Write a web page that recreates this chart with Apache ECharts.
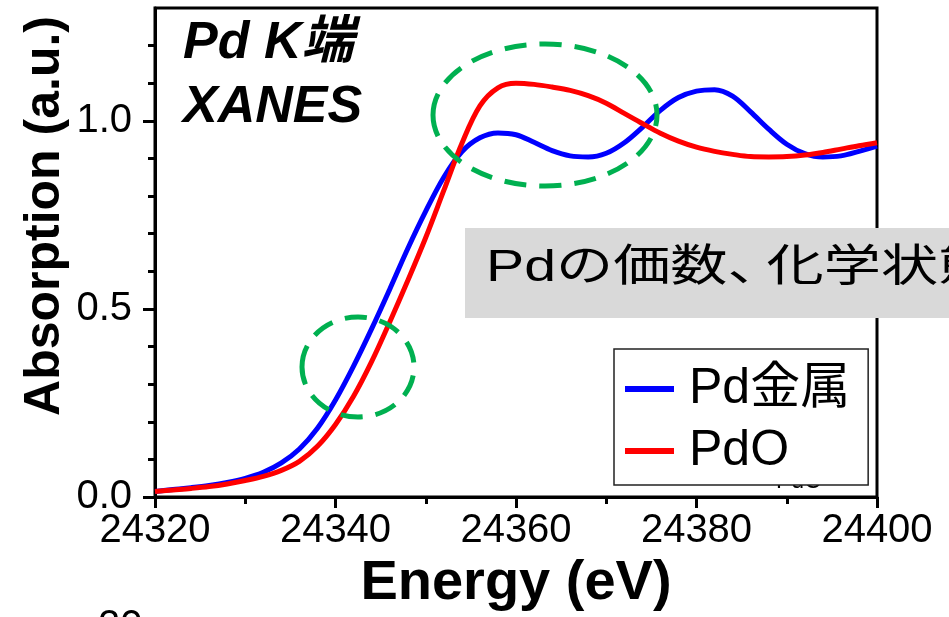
<!DOCTYPE html>
<html>
<head>
<meta charset="utf-8">
<script src="https://cdn.jsdelivr.net/npm/echarts@6/dist/echarts.min.js"></script>
<style>html,body{margin:0;padding:0;background:#fff;}#c{width:949px;height:617px;}</style>
</head>
<body>
<div id="c"></div>
<script>
const energies = [24320,24322,24324,24326,24328,24330,24332,24334,24336,24338,24340,24342,24344,24346,24348,24350,24352,24354,24356,24358,24360,24362,24364,24366,24368,24370,24372,24374,24376,24378,24380,24382,24384,24386,24388,24390,24392,24394,24396,24398,24400];
const pdMetal = [0.015,0.020,0.025,0.031,0.039,0.050,0.066,0.091,0.128,0.183,0.258,0.348,0.447,0.552,0.660,0.760,0.850,0.918,0.955,0.968,0.963,0.943,0.921,0.907,0.904,0.914,0.942,0.983,1.028,1.062,1.079,1.083,1.066,1.024,0.978,0.938,0.913,0.904,0.907,0.919,0.933];
const pdO = [0.015,0.019,0.023,0.028,0.035,0.044,0.055,0.071,0.095,0.135,0.193,0.268,0.360,0.465,0.575,0.690,0.815,0.940,1.040,1.088,1.100,1.097,1.090,1.081,1.067,1.047,1.020,0.993,0.967,0.946,0.930,0.919,0.911,0.905,0.904,0.905,0.909,0.916,0.925,0.934,0.942];
const seriesNames = ['Pd金属', 'PdO'];
const yMajorTicks = [0, 0.5, 1.0];
const yMinorTicks = [0.1,0.2,0.3,0.4,0.6,0.7,0.8,0.9,1.1,1.2];
const titleLines = ['Pd K端', 'XANES'];
const boxText = ['Pdの価数', '、', '化学状態'];

const FONT = "'Liberation Sans', Arial, 'Noto Sans CJK JP', sans-serif";
const chart = echarts.init(document.getElementById('c'), null, {renderer: 'canvas'});

const option = {
  animation: false,
  backgroundColor: '#fff',
  grid: {left: 155, right: 72, top: 8, bottom: 115, show: true, borderColor: '#000', borderWidth: 3, backgroundColor: 'transparent'},
  legend: {
    orient: 'vertical', left: 614, top: 349,
    padding: [15, 18, 9, 11],
    backgroundColor: '#fff', borderColor: '#222', borderWidth: 1.5,
    itemWidth: 49, itemHeight: 6, itemGap: 12, icon: 'rect',
    textStyle: {fontFamily: FONT, fontSize: 50, color: '#000', lineHeight: 49, padding: [0, 0, 0, 10]},
    data: seriesNames, z: 20
  },
  xAxis: {
    type: 'value', min: 24320, max: 24400, interval: 20,
    name: 'Energy (eV)', nameLocation: 'middle', nameGap: 58,
    nameTextStyle: {fontFamily: FONT, fontSize: 56, fontWeight: 'bold', color: '#000'},
    axisLine: {lineStyle: {color: '#000', width: 3}},
    axisTick: {length: 11, lineStyle: {color: '#000', width: 3}},
    minorTick: {show: true, splitNumber: 2, length: 7, lineStyle: {color: '#000', width: 3}},
    axisLabel: {fontFamily: FONT, fontSize: 40, color: '#000', margin: 14, formatter: v => String(v)},
    splitLine: {show: false}, minorSplitLine: {show: false}
  },
  yAxis: [{
    type: 'value', min: 0, max: 1.3, position: 'left',
    axisLine: {show: true, lineStyle: {color: '#000', width: 3}},
    axisTick: {show: true, length: 12, customValues: yMajorTicks, lineStyle: {color: '#000', width: 3}},
    axisLabel: {fontFamily: FONT, fontSize: 40, color: '#000', margin: 23, customValues: yMajorTicks, formatter: v => v.toFixed(1)},
    splitLine: {show: false}
  }, {
    type: 'value', min: 0, max: 1.3, position: 'left',
    axisLine: {show: false},
    axisTick: {show: true, length: 7, customValues: yMinorTicks, lineStyle: {color: '#000', width: 3}},
    axisLabel: {show: false},
    splitLine: {show: false}
  }],
  series: [{
    name: seriesNames[0], type: 'line', smooth: 0.35, showSymbol: false, symbol: 'none',
    lineStyle: {color: '#0000ff', width: 5}, itemStyle: {color: '#0000ff'},
    data: energies.map((e, i) => [e, pdMetal[i]]), z: 3
  }, {
    name: seriesNames[1], type: 'line', smooth: 0.35, showSymbol: false, symbol: 'none',
    lineStyle: {color: '#ff0000', width: 5}, itemStyle: {color: '#ff0000'},
    data: energies.map((e, i) => [e, pdO[i]]), z: 4
  }],
  graphic: [
    {type: 'text', x: 45, y: 216, rotation: Math.PI / 2, z: 10,
     style: {text: 'Absorption (a.u.)', font: "bold 50px " + FONT, fill: '#000', align: 'center', verticalAlign: 'middle'}},
    {type: 'text', x: 183, y: 44, z: 10,
     style: {text: titleLines[0], font: "italic bold 52px " + FONT, fill: '#000', align: 'left', verticalAlign: 'middle'}},
    {type: 'text', x: 183, y: 108, z: 10,
     style: {text: titleLines[1], font: "italic bold 52px " + FONT, fill: '#000', align: 'left', verticalAlign: 'middle'}},
    {type: 'ellipse', z: 12, shape: {cx: 545, cy: 115, rx: 112, ry: 71},
     style: {fill: null, stroke: '#00b050', lineWidth: 5, lineDash: [22, 13]}},
    {type: 'ellipse', z: 12, shape: {cx: 358, cy: 367, rx: 56, ry: 50},
     style: {fill: null, stroke: '#00b050', lineWidth: 5, lineDash: [22, 13]}},
    {type: 'rect', z: 30, shape: {x: 465, y: 228, width: 500, height: 90},
     style: {fill: '#d9d9d9'}},
    {type: 'text', z: 31, x: 486, y: 269, scaleX: 1.3,
     style: {text: '{a|' + boxText[0] + '}{b|' + boxText[1] + '}{a|' + boxText[2] + '}',
       font: "44px " + FONT, fill: '#000', align: 'left', verticalAlign: 'middle',
       rich: {a: {fontFamily: FONT, fontSize: 44, fill: '#000'}, b: {fontFamily: FONT, fontSize: 44, fill: '#000', width: 30}}}},
    {type: 'text', z: 1, x: 776, y: 482,
     style: {text: 'PdO', font: "23px " + FONT, fill: '#000', align: 'left', verticalAlign: 'middle'}},
    {type: 'text', z: 1, x: 98, y: 627,
     style: {text: '20', font: "40px " + FONT, fill: '#000', align: 'left', verticalAlign: 'middle'}}
  ]
};
chart.setOption(option);
</script>
</body>
</html>
